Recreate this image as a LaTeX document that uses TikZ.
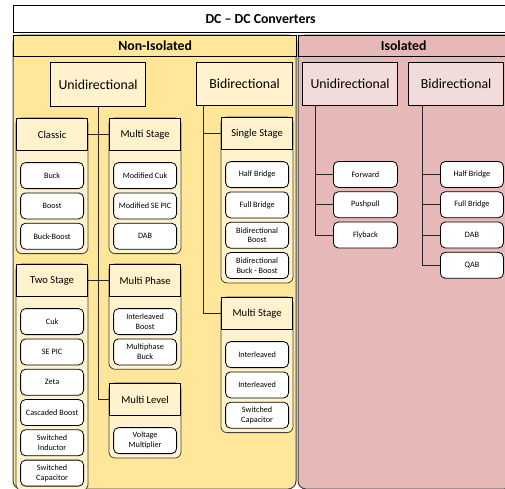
\documentclass[tikz,border=0pt]{standalone}
\usepackage{fontspec}
\setmainfont{Carlito}
\usepackage{xcolor}
\usetikzlibrary{positioning,backgrounds}
\definecolor{niyellow}{HTML}{FFE699}
\definecolor{nilight}{HTML}{FFF2CC}
\definecolor{isorose}{HTML}{E6B8B7}
\definecolor{isolight}{HTML}{F2DCDB}
\definecolor{edgegray}{HTML}{404040}
\tikzset{
  headbar/.style={draw, line width=1.3pt, minimum height=21pt, inner sep=0pt, font=\bfseries\fontsize{13.8}{16}\selectfont},
  levelbox/.style={draw, line width=1.2pt, minimum width=95pt, minimum height=43pt, inner sep=0pt, anchor=north west, font=\fontsize{13.8}{16}\selectfont},
  grouphead/.style={draw, line width=1.2pt, fill=nilight, minimum width=71pt, minimum height=32pt, inner sep=0pt, anchor=north west, font=\fontsize{10.6}{12}\selectfont},
  leaf/.style={draw, line width=0.8pt, rounded corners=5pt, fill=white, minimum width=63pt, minimum height=26pt, inner sep=1pt, align=center, font=\fontsize{8.2}{9.8}\selectfont},
  groupframe/.style={draw=edgegray, line width=0.8pt, fill=nilight, rounded corners=6pt},
  panel/.style={draw=edgegray, line width=1pt, rounded corners=8pt},
  link/.style={draw=black!85, line width=0.9pt}
}

\begin{document}
\begin{tikzpicture}[x=1pt,y=-1pt]
\clip (0,0) rectangle (505,488);
\begin{scope}[on background layer]
\fill[white] (0,0) rectangle (505,488);
\draw[panel, fill=niyellow] (13,35) rectangle (296,489);
\draw[panel, fill=isorose] (298,35) rectangle (512,489);
\end{scope}

\node[headbar, fill=white, minimum width=494pt, minimum height=27pt, anchor=north west] (top) at (13,5) {DC -- DC Converters};
\node[headbar, fill=niyellow, minimum width=283pt, anchor=north west] (nonis) at (13,35) {Non-Isolated};
\node[headbar, fill=isorose, minimum width=210pt, anchor=north west] (isol) at (298,35) {Isolated};

\node[levelbox, fill=nilight, minimum height=44pt] (uni) at (50,62) {Unidirectional};
\node[levelbox, fill=nilight, minimum width=96pt] (bi) at (196,62) {Bidirectional};
\node[levelbox, fill=isolight] (iuni) at (302,62) {Unidirectional};
\node[levelbox, fill=isolight] (ibi) at (408,62) {Bidirectional};

\node[grouphead] (cl) at (16,118) {Classic};
\node[leaf, below=11pt of cl] (buck) {Buck};
\node[leaf, below=3.5pt of buck] (boost) {Boost};
\node[leaf, below=3.5pt of boost] (bb) {Buck-Boost};

\node[grouphead] (ms) at (109,118) {Multi Stage};
\node[leaf, below=11pt of ms] (mcuk) {Modified Cuk};
\node[leaf, below=3.5pt of mcuk] (msepic) {Modified SE PIC};
\node[leaf, below=3.5pt of msepic] (dab) {DAB};

\node[grouphead] (ts) at (16,264) {Two Stage};
\node[leaf, below=11pt of ts] (cuk) {Cuk};
\node[leaf, below=3.5pt of cuk] (sepic) {SE PIC};
\node[leaf, below=3.5pt of sepic] (zeta) {Zeta};
\node[leaf, below=3.5pt of zeta] (cboost) {Cascaded Boost};
\node[leaf, below=3.5pt of cboost] (sind) {Switched\\Inductor};
\node[leaf, below=3.5pt of sind] (scap) {Switched\\Capacitor};

\node[grouphead] (mp) at (109,264) {Multi Phase};
\node[leaf, below=11pt of mp] (ilboost) {Interleaved\\Boost};
\node[leaf, below=3.5pt of ilboost] (mpbuck) {Multiphase\\Buck};

\node[grouphead] (ml) at (109,383) {Multi Level};
\node[leaf, below=11pt of ml] (vmult) {Voltage\\Multiplier};

\node[grouphead] (ss) at (221,117) {Single Stage};
\node[leaf, below=11pt of ss] (hb) {Half Bridge};
\node[leaf, below=3.5pt of hb] (fb) {Full Bridge};
\node[leaf, below=3.5pt of fb] (bdboost) {Bidirectional\\Boost};
\node[leaf, below=3.5pt of bdboost] (bdbb) {Bidirectional\\Buck - Boost};

\node[grouphead] (ms2) at (221,297) {Multi Stage};
\node[leaf, below=11pt of ms2] (il1) {Interleaved};
\node[leaf, below=3.5pt of il1] (il2) {Interleaved};
\node[leaf, below=3.5pt of il2] (swcap) {Switched\\Capacitor};

\node[leaf, minimum width=64pt, anchor=north west] (fwd) at (333,161) {Forward};
\node[leaf, minimum width=64pt, below=3.5pt of fwd] (pp) {Pushpull};
\node[leaf, minimum width=64pt, below=3.5pt of pp] (fly) {Flyback};

\node[leaf, anchor=north west] (ihb) at (440,161) {Half Bridge};
\node[leaf, below=3.5pt of ihb] (ifb) {Full Bridge};
\node[leaf, below=3.5pt of ifb] (idab) {DAB};
\node[leaf, below=3.5pt of idab] (iqab) {QAB};

\begin{scope}[on background layer]
\draw[groupframe] (cl.north west) rectangle ([shift={(4pt,-4pt)}]bb.south east);
\draw[groupframe] (ms.north west) rectangle ([shift={(4pt,-4pt)}]dab.south east);
\draw[groupframe] (ts.north west) rectangle ([shift={(4pt,-4pt)}]scap.south east);
\draw[groupframe] (mp.north west) rectangle ([shift={(4pt,-4pt)}]mpbuck.south east);
\draw[groupframe] (ml.north west) rectangle ([shift={(4pt,-4pt)}]vmult.south east);
\draw[groupframe] (ss.north west) rectangle ([shift={(4pt,-4pt)}]bdbb.south east);
\draw[groupframe] (ms2.north west) rectangle ([shift={(4pt,-4pt)}]swcap.south east);
\end{scope}

\draw[link] (uni.south) -- (uni.south |- ml.west) -- (ml.west);
\draw[link] (cl.east) -- (ms.west);
\draw[link] (ts.east) -- (mp.west);

\coordinate[xshift=7pt] (bt) at (bi.south west);
\draw[link] (bt) -- (bt |- ms2.west) -- (ms2.west);
\draw[link] (bt |- ss.west) -- (ss.west);

\coordinate[xshift=13pt] (iut) at (iuni.south west);
\draw[link] (iut) -- (iut |- fly.west) -- (fly.west);
\draw[link] (iut |- fwd.west) -- (fwd.west);
\draw[link] (iut |- pp.west) -- (pp.west);

\coordinate[xshift=14pt] (ibt) at (ibi.south west);
\draw[link] (ibt) -- (ibt |- iqab.west) -- (iqab.west);
\draw[link] (ibt |- ihb.west) -- (ihb.west);
\draw[link] (ibt |- ifb.west) -- (ifb.west);
\draw[link] (ibt |- idab.west) -- (idab.west);
\end{tikzpicture}
\end{document}
